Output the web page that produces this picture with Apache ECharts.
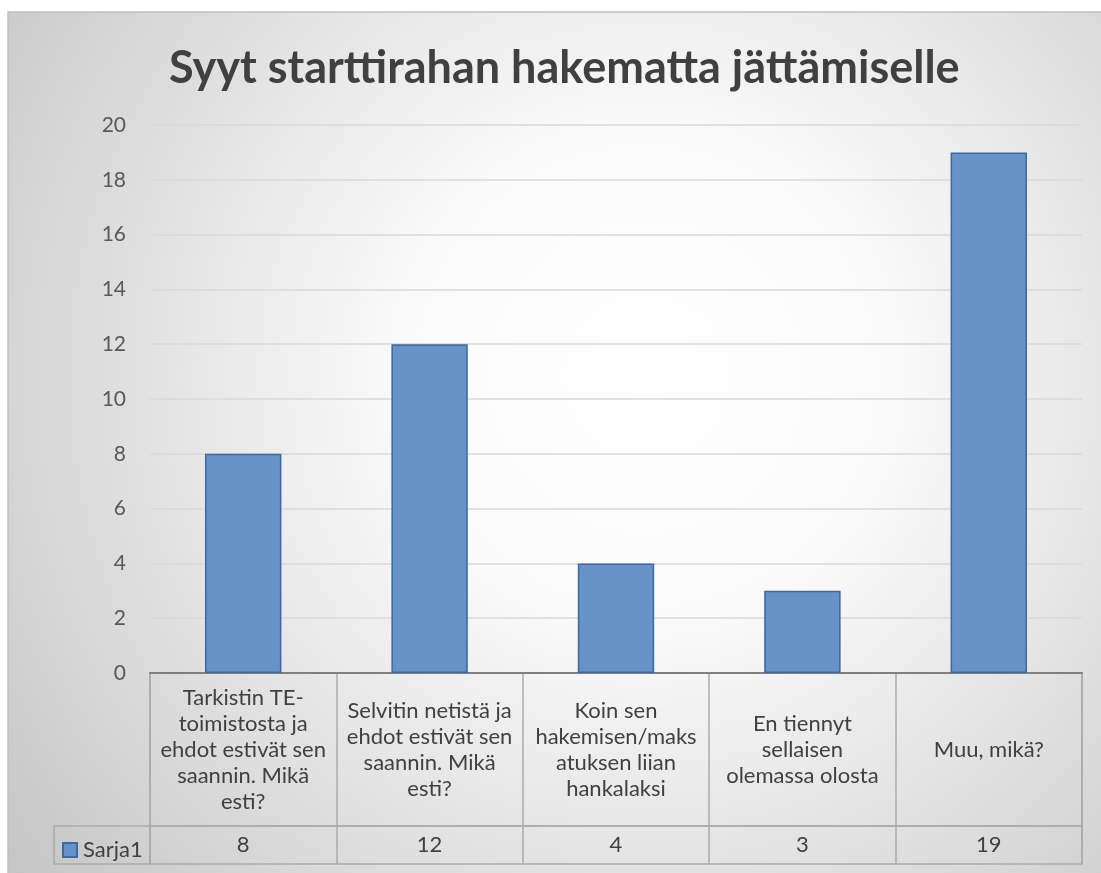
<!DOCTYPE html>
<html>
<head>
<meta charset="utf-8">
<script src="https://cdn.jsdelivr.net/npm/echarts@6/dist/echarts.min.js"></script>
<style>html,body{margin:0;padding:0;background:#fff;}#c{width:1101px;height:873px;}</style>
</head>
<body>
<div id="c"></div>
<script>
const titleText = 'Syyt starttirahan hakematta jättämiselle';
const seriesName = 'Sarja1';
const categories = [
  'Tarkistin TE-\ntoimistosta ja\nehdot estivät sen\nsaannin. Mikä\nesti?',
  'Selvitin netistä ja\nehdot estivät sen\nsaannin. Mikä\nesti?',
  'Koin sen\nhakemisen/maks\natuksen liian\nhankalaksi',
  'En tiennyt\nsellaisen\nolemassa olosta',
  'Muu, mikä?'
];
const values = [8, 12, 4, 3, 19];
const yTicks = {min: 0, max: 20, interval: 2};

const FONT = 'Lato, "Open Sans", sans-serif';
const TXT = '#404040';
const LINE = '#ababab';

const chart = echarts.init(document.getElementById('c'), null, {renderer: 'canvas'});

function textItem(getText) {
  return function (params, api) {
    const p = api.coord([api.value(0), api.value(1)]);
    return {
      type: 'text',
      style: {
        text: getText(params.dataIndex),
        x: p[0], y: p[1],
        align: 'center', verticalAlign: 'middle',
        font: '22px ' + FONT,
        fill: TXT,
        lineHeight: 26
      }
    };
  };
}

chart.setOption({
  backgroundColor: '#ffffff',
  animation: false,
  graphic: [
    {
      type: 'rect', z: -10, silent: true,
      shape: {x: 8, y: 12, width: 1100, height: 870},
      style: {
        fill: {type: 'radial', x: 0.58, y: 0.42, r: 0.95,
          colorStops: [{offset: 0, color: '#ffffff'}, {offset: 0.3, color: '#fafafa'}, {offset: 1, color: '#c3c3c3'}]},
        stroke: '#c0c0c0', lineWidth: 1.5
      }
    },
    {
      type: 'rect', z: 5, silent: true,
      shape: {x: 54, y: 826, width: 96, height: 38},
      style: {fill: 'none', stroke: LINE, lineWidth: 1.5}
    }
  ],
  title: {
    text: titleText,
    left: 164, top: 41,
    textStyle: {fontFamily: FONT, fontSize: 45, fontWeight: 'bold', color: TXT}
  },
  legend: {
    data: [seriesName],
    left: 57, top: 834,
    icon: 'rect', itemWidth: 14, itemHeight: 14, itemGap: 4,
    textStyle: {fontFamily: FONT, fontSize: 22, color: TXT, padding: [0, 0, 0, 1]}
  },
  grid: [
    {left: 150, right: 19, top: 125, height: 548},
    {left: 150, right: 19, top: 673, height: 153, show: true, borderColor: LINE, borderWidth: 1.5},
    {left: 150, right: 19, top: 826, height: 38, show: true, borderColor: LINE, borderWidth: 1.5}
  ],
  xAxis: [
    {gridIndex: 0, type: 'category', data: categories,
      axisLine: {show: true, lineStyle: {color: '#7f7f7f', width: 2}},
      axisTick: {show: false}, axisLabel: {show: false}, splitLine: {show: false}},
    {gridIndex: 1, type: 'category', data: categories,
      axisLine: {show: false}, axisTick: {show: false}, axisLabel: {show: false},
      splitLine: {show: true, lineStyle: {color: LINE, width: 1.5}}},
    {gridIndex: 2, type: 'category', data: categories,
      axisLine: {show: false}, axisTick: {show: false}, axisLabel: {show: false},
      splitLine: {show: true, lineStyle: {color: LINE, width: 1.5}}}
  ],
  yAxis: [
    {gridIndex: 0, type: 'value', min: yTicks.min, max: yTicks.max, interval: yTicks.interval,
      axisLine: {show: false}, axisTick: {show: false},
      axisLabel: {fontFamily: FONT, fontSize: 21, color: '#595959', margin: 24},
      splitLine: {show: true, lineStyle: {color: '#d9d9d9', width: 1.5}}},
    {gridIndex: 1, type: 'category', data: ['label'], show: false},
    {gridIndex: 2, type: 'category', data: [seriesName], show: false}
  ],
  series: [
    {
      name: seriesName, type: 'bar', xAxisIndex: 0, yAxisIndex: 0,
      data: values, barWidth: '41%',
      itemStyle: {color: '#6692c8', borderColor: '#3e689e', borderWidth: 1.5}
    },
    {
      type: 'custom', xAxisIndex: 1, yAxisIndex: 1, silent: true,
      data: categories.map((c, i) => [i, 'label']),
      renderItem: textItem(i => categories[i]), z: 10
    },
    {
      type: 'custom', xAxisIndex: 2, yAxisIndex: 2, silent: true,
      data: values.map((v, i) => [i, seriesName, v]),
      renderItem: textItem(i => String(values[i])), z: 10
    }
  ]
});
</script>
</body>
</html>
